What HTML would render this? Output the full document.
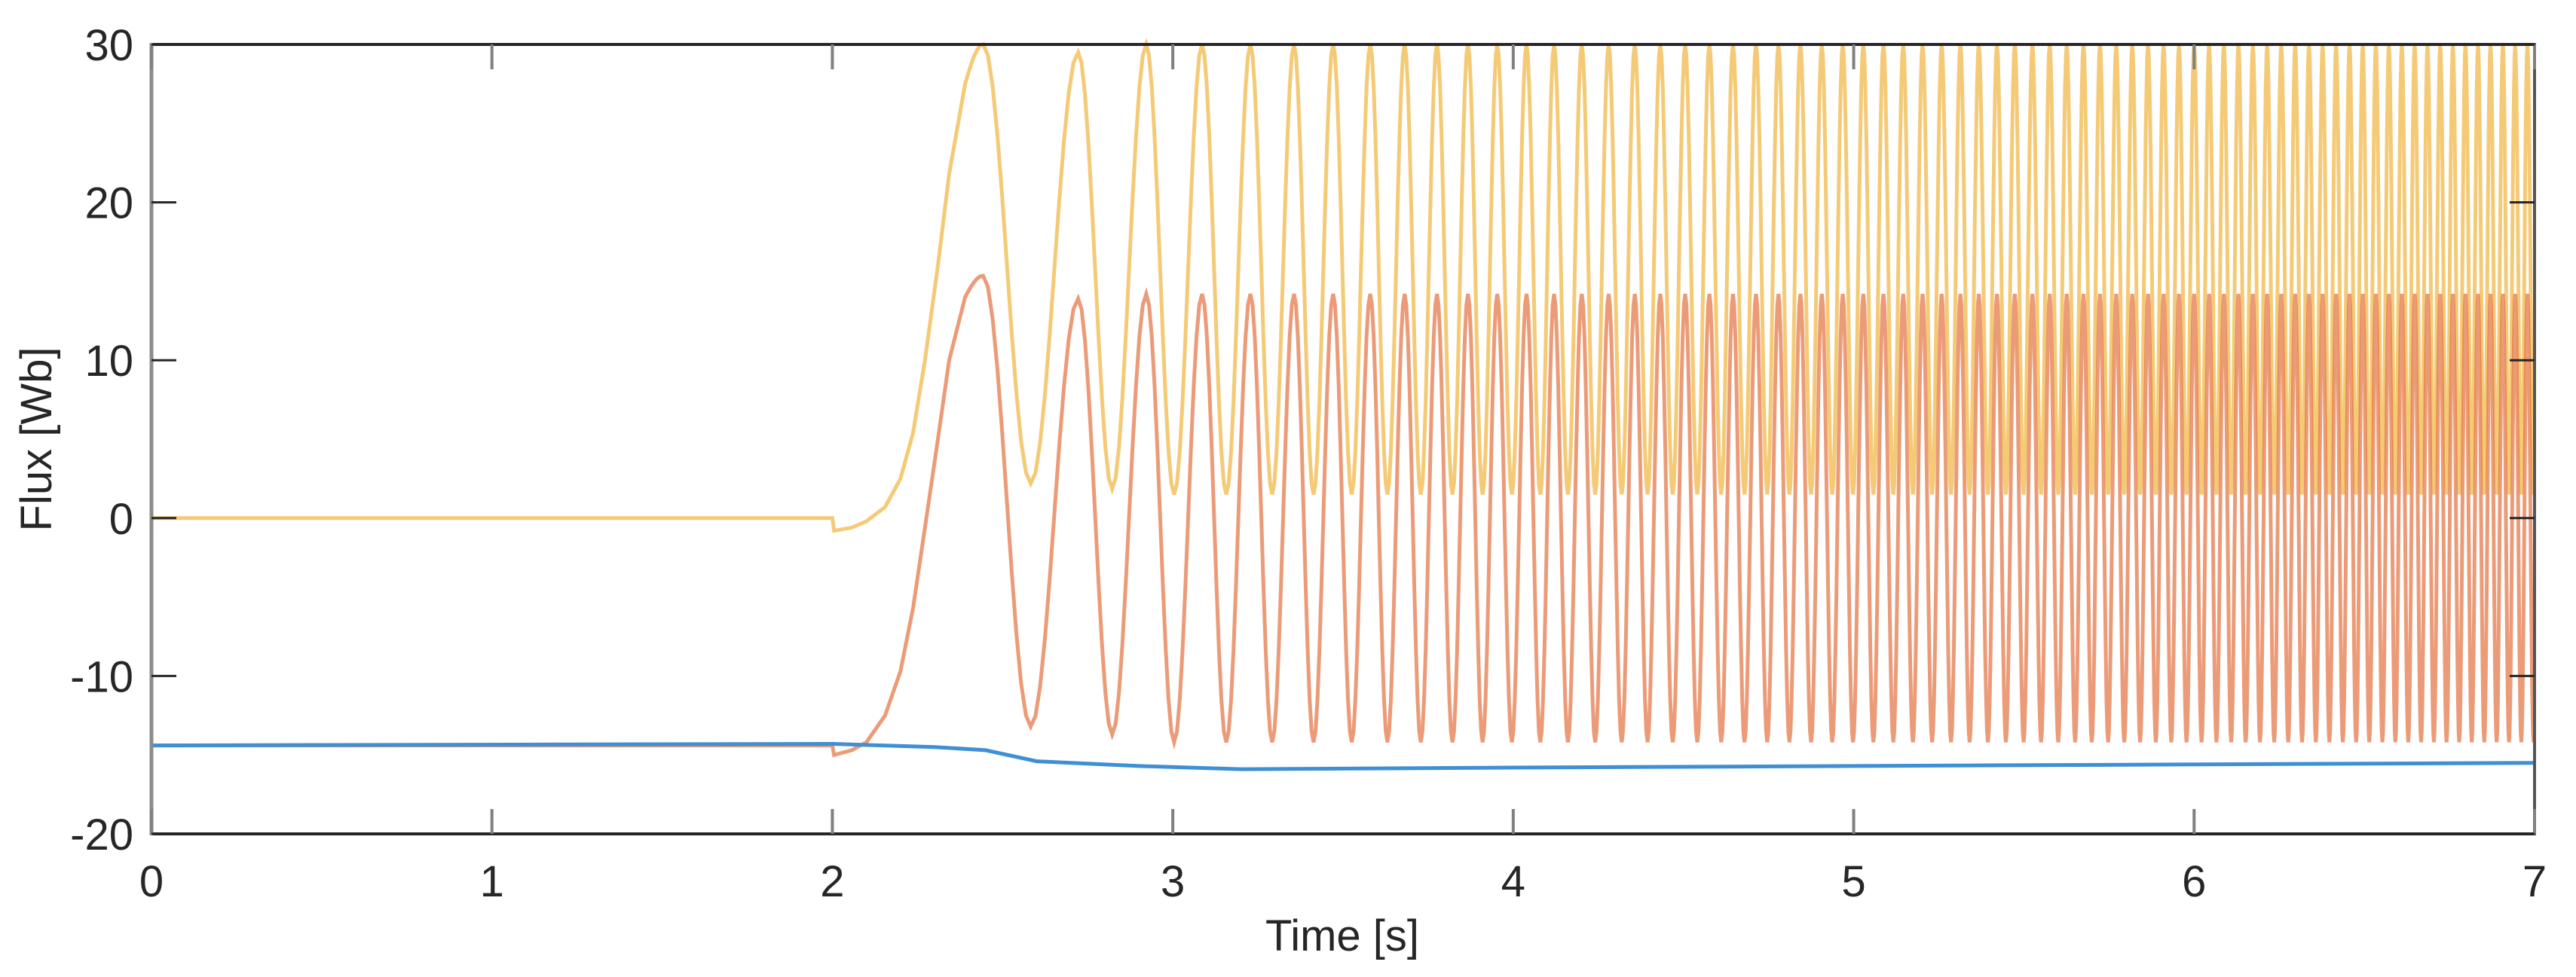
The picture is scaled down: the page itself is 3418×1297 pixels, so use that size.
<!DOCTYPE html>
<html><head><meta charset="utf-8"><style>
html,body{margin:0;padding:0;background:#fff;}
svg{display:block;}
text{font-family:"Liberation Sans",sans-serif;fill:#262626;}
</style></head><body>
<svg id="chart" width="3418" height="1297" viewBox="0 0 3418 1297" xmlns="http://www.w3.org/2000/svg">
<rect x="0" y="0" width="3418" height="1297" fill="#fff"/>
<g id="series"></g>
<g id="axes"></g>
<text x="1781" y="1262" font-size="58" text-anchor="middle">Time [s]</text>
<text x="0" y="0" font-size="58" text-anchor="middle" transform="translate(68,583) rotate(-90)">Flux [Wb]</text>
</svg>
<script>
const xTicks = [0,1,2,3,4,5,6,7];
const yTicks = [30,20,10,0,-10,-20];
// early measured peak times (s)
const peakTimes = [2.443,2.722,2.922,3.086,3.228,3.356,3.471,3.580,3.681,3.776,3.867,3.953,4.039,4.12];
// later oscillation frequency keyframes (Hz)
const freqTimes = [4.12,4.5,5.5,6.5,7.0];
const freqValues = [12.3,14,19.5,26,28];
// envelopes (per extremum index, last value repeats)
const yellowPeaks = [30,29.5,30];
const yellowMins = [2.2,1.85,1.5];
const redPeaks = [15.35,13.9,14.2];
const redMins = [-13.2,-13.7,-14.2];
// pre-oscillation start-up segments
const rampTimes = [0,2.0,2.005,2.057,2.1,2.155,2.2,2.237,2.272,2.31,2.343,2.39];
const yellowRamp = [0,0,-0.8,-0.6,-0.2,0.7,2.5,5.4,10,16,21.8,27.5];
const redRamp = [-14.4,-14.4,-15,-14.7,-14.2,-12.5,-9.7,-5.7,-0.6,5,10,14];
const blueTimes = [0,2.0,2.3,2.45,2.6,2.9,3.2,4.0,5.0,6.0,7.0];
const blueValues = [-14.4,-14.3,-14.5,-14.7,-15.4,-15.7,-15.9,-15.8,-15.7,-15.6,-15.5];

const L=201,R=3363,T=59,B=1107;
const X = t => L + (t-0)/7*(R-L);
const Y = v => T + (30-v)/50*(B-T);
const NS='http://www.w3.org/2000/svg';
const series=document.getElementById('series');
const axes=document.getElementById('axes');

function freqAt(t){
  if(t<=freqTimes[0]) return freqValues[0];
  for(let i=1;i<freqTimes.length;i++){
    if(t<=freqTimes[i]){const a=(t-freqTimes[i-1])/(freqTimes[i]-freqTimes[i-1]);return freqValues[i-1]+a*(freqValues[i]-freqValues[i-1]);}
  }
  return freqValues[freqValues.length-1];
}
const peaks = peakTimes.slice();
while(peaks[peaks.length-1] < 7.05){const p=peaks[peaks.length-1]; peaks.push(p+1/freqAt(p));}
const env=(arr,i)=>arr[Math.min(i,arr.length-1)];

function buildPath(rampV, pk, mn){
  let pts=[];
  for(let i=0;i<rampTimes.length;i++) pts.push([rampTimes[i],rampV[i]]);
  let ext=[];
  for(let i=0;i<peaks.length;i++){
    ext.push([peaks[i],env(pk,i)]);
    if(i+1<peaks.length) ext.push([(peaks[i]+peaks[i+1])/2,env(mn,i)]);
  }
  const lr=pts[pts.length-1];
  for(let k=1;k<=6;k++){const a=k/6;pts.push([lr[0]+a*(ext[0][0]-lr[0]), lr[1]+Math.sin(a*Math.PI/2)*(ext[0][1]-lr[1])]);}
  for(let j=1;j<ext.length;j++){
    const a0=ext[j-1],a1=ext[j];
    for(let k=1;k<=10;k++){
      const a=k/10, t=a0[0]+a*(a1[0]-a0[0]);
      if(t>7) break;
      pts.push([t, a0[1]+(1-Math.cos(a*Math.PI))/2*(a1[1]-a0[1])]);
    }
    if(a1[0]>7) break;
  }
  return 'M'+pts.filter(p=>p[0]<=7).map(p=>X(p[0]).toFixed(1)+','+Y(p[1]).toFixed(1)).join('L');
}

const yp=document.createElementNS(NS,'path');
yp.setAttribute('d',buildPath(yellowRamp,yellowPeaks,yellowMins));
yp.setAttribute('fill','none');yp.setAttribute('stroke','#F0B43C');yp.setAttribute('stroke-opacity','0.7');yp.setAttribute('stroke-width','5');


series.appendChild(yp);

const rp=document.createElementNS(NS,'path');
rp.setAttribute('d',buildPath(redRamp,redPeaks,redMins));
rp.setAttribute('fill','none');rp.setAttribute('stroke','#E2703F');rp.setAttribute('stroke-opacity','0.7');rp.setAttribute('stroke-width','5');


series.appendChild(rp);

const bp=document.createElementNS(NS,'path');
bp.setAttribute('d','M'+blueTimes.map((t,i)=>X(t).toFixed(1)+','+Y(blueValues[i]).toFixed(1)).join('L'));
bp.setAttribute('fill','none');bp.setAttribute('stroke','#3E8FD4');bp.setAttribute('stroke-width','5');


series.appendChild(bp);

function line(x1,y1,x2,y2,c,w,name){
  const l=document.createElementNS(NS,'line');
  l.setAttribute('x1',x1);l.setAttribute('y1',y1);l.setAttribute('x2',x2);l.setAttribute('y2',y2);
  l.setAttribute('stroke',c);l.setAttribute('stroke-width',w);
  
  
  axes.appendChild(l);
}
line(L,T,R,T,'#262626',4,'top-axis-line');
line(L,B,R,B,'#262626',4,'x-axis-line');
line(L,T-2,L,B+2,'#8c8c8c',5,'y-axis-line');
line(R,T-2,R,B+2,'#555',4,'right-axis-line');
xTicks.forEach(t=>{
  line(X(t),B,X(t),B-33,'#808080',4,'x-tick');
  line(X(t),T,X(t),T+33,'#808080',4,'x-tick-top');
  const tx=document.createElementNS(NS,'text');
  tx.setAttribute('x',X(t));tx.setAttribute('y',1190);tx.setAttribute('font-size','58');tx.setAttribute('text-anchor','middle');
  tx.textContent=t;
  
  
  axes.appendChild(tx);
});
yTicks.forEach(v=>{
  line(L,Y(v),L+33,Y(v),'#262626',3,'y-tick');
  line(R,Y(v),R-33,Y(v),'#262626',3,'y-tick-right');
  const tx=document.createElementNS(NS,'text');
  tx.setAttribute('x',177);tx.setAttribute('y',Y(v)+21);tx.setAttribute('font-size','58');tx.setAttribute('text-anchor','end');
  tx.textContent=v;
  
  
  axes.appendChild(tx);
});
</script>
</body></html>
